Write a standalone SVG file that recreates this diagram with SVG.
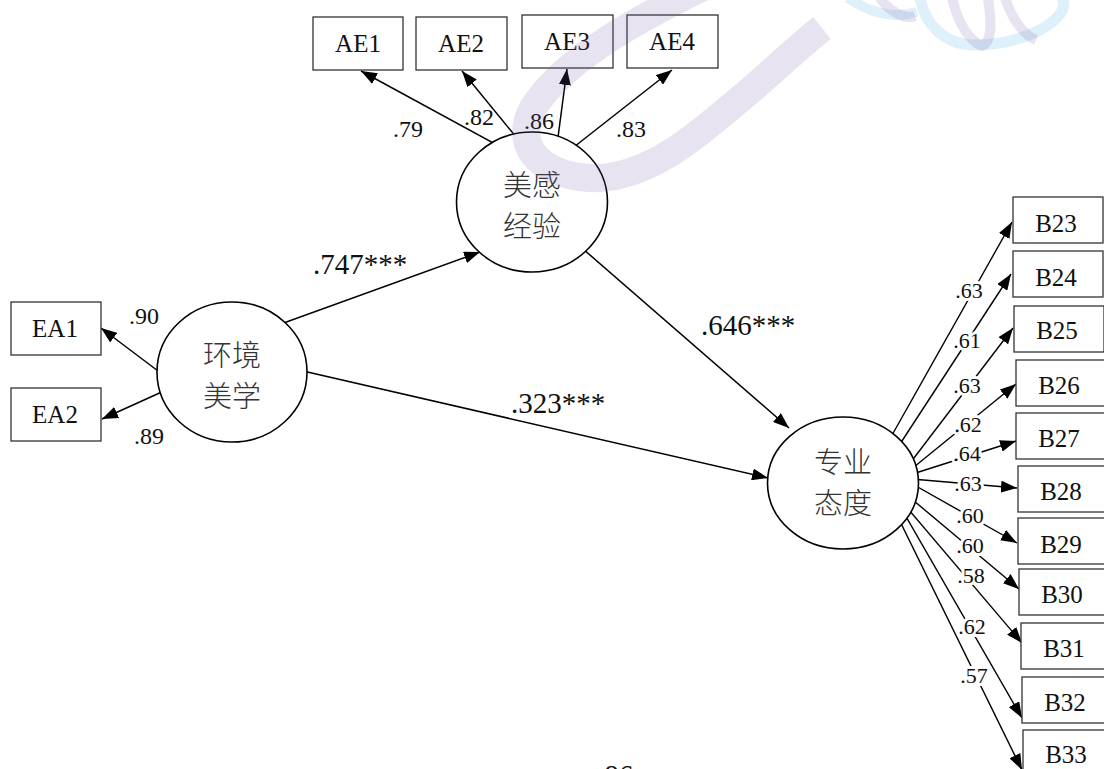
<svg xmlns="http://www.w3.org/2000/svg" width="1104" height="769" viewBox="0 0 1104 769">
<defs>
<marker id="ah" markerUnits="userSpaceOnUse" markerWidth="16" markerHeight="12" refX="16" refY="6" orient="auto"><path d="M0,0 L16,6 L0,12 z" fill="#000"/></marker>
<style>
.box{fill:#fff;stroke:#333;stroke-width:1.3}
.lat{fill:#fff;stroke:#000;stroke-width:1.6}
.bt{font-family:"Liberation Serif","Times New Roman",serif;font-size:25px;fill:#111;text-anchor:middle}
.cn{font-family:"Noto Sans CJK SC",sans-serif;font-size:29px;fill:#333;text-anchor:middle;font-weight:300}
.ln{stroke:#000;stroke-width:1.5;fill:none;marker-end:url(#ah)}
.bl{stroke:#000;stroke-width:1.4;fill:none;marker-end:url(#ah)}
.ld{font-family:"Liberation Serif","Times New Roman",serif;font-size:24px;fill:#111;text-anchor:middle}
.lb{font-family:"Liberation Serif","Times New Roman",serif;font-size:22px;fill:#111;text-anchor:middle;stroke:#fff;stroke-width:6;paint-order:stroke}
.pl{font-family:"Liberation Serif","Times New Roman",serif;font-size:29px;fill:#111}
.wp{fill:none;stroke:rgb(120,90,170);stroke-opacity:0.17}
.wb{fill:none;stroke:rgb(90,180,225);stroke-opacity:0.2}
</style>
</defs>
<rect width="1104" height="769" fill="#fff"/>
<g id="connectors">
<path class="ln" d="M170,380 L101,328"/>
<path class="ln" d="M175,386 L102,419"/>
<path class="ln" d="M510,152 L361,71"/>
<path class="ln" d="M530,154 L462,71"/>
<path class="ln" d="M555,160 L567,69"/>
<path class="ln" d="M565,154 L672,70"/>
<path class="ln" d="M267,329 L480,252"/>
<path class="ln" d="M290,368 L768,478"/>
<path class="ln" d="M575,242 L789,428"/>
<path class="bl" d="M878,460 L1012,222"/>
<path class="bl" d="M883,470 L1011,274"/>
<path class="bl" d="M901,475 L1013,328"/>
<path class="bl" d="M898,480 L1016,384"/>
<path class="bl" d="M900,478 L1016,441"/>
<path class="bl" d="M900,478 L1017,488"/>
<path class="bl" d="M900,477 L1017,543"/>
<path class="bl" d="M895,485 L1019,589"/>
<path class="bl" d="M892,490 L1022,643"/>
<path class="bl" d="M893,494 L1022,718"/>
<path class="bl" d="M890,501 L1022,770"/>
</g>
<g id="n-ea"><ellipse class="lat" cx="232" cy="372" rx="75" ry="70"/><text class="cn" x="232" y="366">环境</text><text class="cn" x="232" y="407">美学</text></g>
<g id="n-ae"><ellipse class="lat" cx="532" cy="202" rx="75.5" ry="70"/><text class="cn" x="532" y="196">美感</text><text class="cn" x="532" y="237">经验</text></g>
<g id="n-pa"><ellipse class="lat" cx="843" cy="483" rx="75.5" ry="66"/><text class="cn" x="843" y="473">专业</text><text class="cn" x="843" y="514">态度</text></g>
<g id="n-AE1"><rect class="box" x="313" y="17" width="90" height="53"/><text class="bt" x="358" y="52">AE1</text></g>
<g id="n-AE2"><rect class="box" x="416" y="17" width="91" height="53"/><text class="bt" x="461" y="52">AE2</text></g>
<g id="n-AE3"><rect class="box" x="522" y="15" width="91" height="53"/><text class="bt" x="567" y="50">AE3</text></g>
<g id="n-AE4"><rect class="box" x="627" y="15" width="91" height="53"/><text class="bt" x="672" y="50">AE4</text></g>
<g id="n-EA1"><rect class="box" x="11" y="302" width="90" height="53"/><text class="bt" x="55" y="337">EA1</text></g>
<g id="n-EA2"><rect class="box" x="11" y="388" width="90" height="53"/><text class="bt" x="55" y="423">EA2</text></g>
<g id="n-B23"><rect class="box" x="1013" y="197" width="90" height="46"/><text class="bt" x="1056" y="232">B23</text></g>
<g id="n-B24"><rect class="box" x="1013" y="251" width="90" height="46"/><text class="bt" x="1056" y="286">B24</text></g>
<g id="n-B25"><rect class="box" x="1014" y="306" width="90" height="46"/><text class="bt" x="1057" y="339">B25</text></g>
<g id="n-B26"><rect class="box" x="1016" y="360" width="90" height="46"/><text class="bt" x="1059" y="394">B26</text></g>
<g id="n-B27"><rect class="box" x="1016" y="413" width="90" height="46"/><text class="bt" x="1059" y="447">B27</text></g>
<g id="n-B28"><rect class="box" x="1018" y="466" width="90" height="46"/><text class="bt" x="1061" y="500">B28</text></g>
<g id="n-B29"><rect class="box" x="1018" y="518" width="90" height="46"/><text class="bt" x="1061" y="553">B29</text></g>
<g id="n-B30"><rect class="box" x="1019" y="569" width="90" height="46"/><text class="bt" x="1062" y="603">B30</text></g>
<g id="n-B31"><rect class="box" x="1021" y="623" width="90" height="46"/><text class="bt" x="1064" y="657">B31</text></g>
<g id="n-B32"><rect class="box" x="1022" y="677" width="90" height="46"/><text class="bt" x="1065" y="711">B32</text></g>
<g id="n-B33"><rect class="box" x="1023" y="730" width="90" height="46"/><text class="bt" x="1066" y="763">B33</text></g>
<g id="labels">
<text class="ld" x="144" y="324">.90</text>
<text class="ld" x="149" y="444">.89</text>
<text class="ld" x="408" y="137">.79</text>
<text class="ld" x="479" y="125">.82</text>
<text class="ld" x="539" y="129">.86</text>
<text class="ld" x="631" y="137">.83</text>
<text class="pl" x="313" y="274">.747***</text>
<text class="pl" x="701" y="335">.646***</text>
<text class="pl" x="511" y="413">.323***</text>
<text class="pl" x="615" y="785" text-anchor="middle">.86</text>
<text class="lb" x="969" y="298">.63</text>
<text class="lb" x="967" y="348">.61</text>
<text class="lb" x="967" y="393">.63</text>
<text class="lb" x="968" y="432">.62</text>
<text class="lb" x="967" y="461">.64</text>
<text class="lb" x="968" y="491">.63</text>
<text class="lb" x="970" y="523">.60</text>
<text class="lb" x="970" y="553">.60</text>
<text class="lb" x="971" y="583">.58</text>
<text class="lb" x="972" y="634">.62</text>
<text class="lb" x="974" y="683">.57</text>
</g>
<g id="watermark">
<path class="wp" stroke-width="28" d="M705,-14 C640,18 565,58 533,108 C505,160 568,186 615,176 C665,166 705,128 745,95 C772,72 797,48 822,28"/>
<path class="wb" stroke-width="10" d="M848,-2 C865,10 890,20 917,12"/>
<path class="wp" stroke-width="10" d="M880,-2 C890,12 905,20 915,16"/>
<path class="wb" stroke-width="11" d="M920,-2 C925,25 945,45 975,45 C1000,45 1020,40 1040,30 C1058,20 1068,8 1062,-2"/>
<path class="wp" stroke-width="10" d="M952,-2 C958,22 968,40 982,46 C992,42 992,25 988,-2"/>
<path class="wp" stroke-width="10" d="M1005,-2 C1012,18 1022,34 1036,40"/>
</g>
</svg>
